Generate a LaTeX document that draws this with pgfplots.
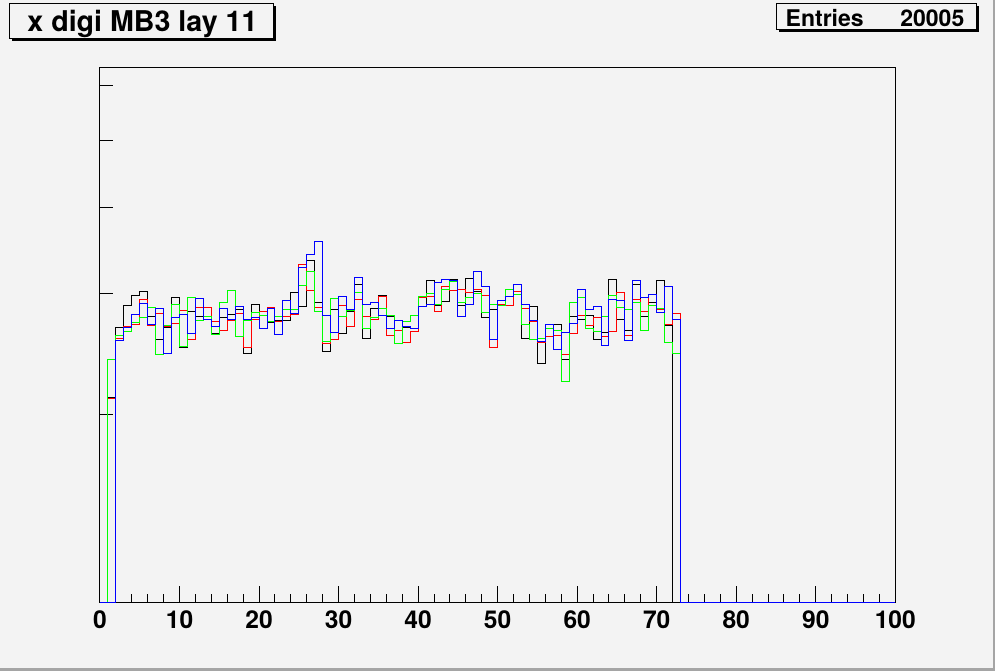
\documentclass[border=0pt]{standalone}
\usepackage{fontspec}
\setmainfont{TeX Gyre Heros}
\usepackage{pgfplots}
\usepackage{pgfplotstable}
\pgfplotsset{compat=1.18}
\definecolor{bg}{RGB}{243,243,243}
\definecolor{brd}{RGB}{165,165,165}
\newcommand{\PX}[2]{({(#1)*0.5pt},{(671-(#2))*0.5pt})}
\pgfplotstableread{
x k r g b
0 106.7 106.7 106.7 106.7
1 211.8 211.1 240.5 106.7
2 267.7 258.0 260.7 256.3
3 288.2 268.3 264.2 267.4
4 298.0 270.4 272.2 279.6
5 302.0 294.0 276.8 290.1
6 277.8 269.5 286.2 270.4
7 257.2 280.5 244.6 285.3
8 267.7 268.6 269.5 245.4
9 296.0 271.3 289.1 276.8
10 250.4 283.4 251.2 279.6
11 282.4 257.2 296.0 262.4
12 277.8 286.2 274.1 295.0
13 275.0 286.2 277.8 275.0
14 262.4 273.1 261.5 268.6
15 276.8 265.0 291.1 285.3
16 279.6 274.1 303.0 275.0
17 284.3 280.5 259.8 287.2
18 245.4 250.4 274.1 275.0
19 289.1 275.0 281.5 276.8
20 282.4 282.4 278.7 266.8
21 272.2 286.2 273.1 285.3
22 274.1 273.1 277.8 261.5
23 274.1 277.8 284.3 293.0
24 301.0 279.6 284.3 280.5
25 287.2 330.5 308.1 327.2
26 335.0 303.0 322.9 341.8
27 291.1 286.2 282.4 356.9
28 247.1 253.8 255.5 278.7
29 284.3 257.2 295.0 263.3
30 262.4 288.2 277.8 297.0
31 282.4 268.6 283.4 284.3
32 309.1 294.0 301.0 316.4
33 258.0 277.8 266.8 289.1
34 285.3 275.0 276.8 291.1
35 298.0 297.0 285.3 278.7
36 277.8 260.7 278.7 266.8
37 265.0 265.0 253.8 274.1
38 267.7 254.6 273.1 268.6
39 266.8 264.2 278.7 266.8
40 287.2 296.0 297.0 287.2
41 313.3 297.0 300.0 289.1
42 288.2 282.4 289.1 311.2
43 292.0 307.1 304.0 314.3
44 314.3 303.0 312.2 313.3
45 288.2 304.0 291.1 277.8
46 315.4 301.0 296.0 289.1
47 302.0 304.0 300.0 322.9
48 276.8 298.0 281.5 307.1
49 284.3 250.4 289.1 257.2
50 289.1 289.1 288.2 293.0
51 297.0 288.2 304.0 297.0
52 302.0 302.0 299.0 309.1
53 258.0 285.3 270.4 289.1
54 287.2 273.1 257.2 274.1
55 237.4 254.6 258.0 255.5
56 270.4 259.8 266.8 270.4
57 270.4 260.7 265.0 248.7
58 240.5 244.6 223.5 263.3
59 277.8 262.4 291.1 271.3
60 275.0 278.7 296.0 304.0
61 278.7 269.5 266.8 284.3
62 257.2 276.8 264.2 287.2
63 263.3 259.8 277.8 252.1
64 314.3 264.2 298.0 294.0
65 275.0 301.0 286.2 293.0
66 265.0 260.7 284.3 256.3
67 309.1 294.0 291.1 313.3
68 277.8 282.4 265.0 296.0
69 291.1 299.0 288.2 299.0
70 313.3 284.3 285.3 281.5
71 269.5 270.4 254.6 307.1
72 106.7 280.5 245.4 275.0
73 106.7 106.7 106.7 106.7
100 106.7 106.7 106.7 106.7
}\hist
\begin{document}
\begin{tikzpicture}
\useasboundingbox \PX{0}{0} rectangle \PX{995}{671};
\fill[bg] \PX{0}{0} rectangle \PX{995}{671};
\fill[brd] \PX{992.7}{0} rectangle \PX{995}{671};
\fill[brd] \PX{0}{667.7} rectangle \PX{995}{671};
% title box
\fill[black] \PX{11.5}{5.8} rectangle \PX{275.8}{40.8};
\filldraw[fill=bg, draw=black, line width=0.5pt] \PX{9}{3.3} rectangle \PX{273.3}{38.3};
\node[anchor=base, inner sep=0pt, font=\fontsize{14.3}{14.3}\selectfont\bfseries] at \PX{142.5}{31.7} {x digi MB3 lay 11};
% stats box
\fill[black] \PX{778.5}{5.8} rectangle \PX{978.5}{31.8};
\filldraw[fill=bg, draw=black, line width=0.5pt] \PX{776}{3.3} rectangle \PX{976}{29.3};
\node[anchor=base west, inner sep=0pt, font=\fontsize{11.5}{11.5}\selectfont\bfseries] at \PX{785.3}{26.7} {Entries};
\node[anchor=base east, inner sep=0pt, font=\fontsize{11.5}{11.5}\selectfont\bfseries] at \PX{964.7}{26.7} {20005};
\begin{axis}[
  at={(50pt,34.25pt)}, anchor=south west,
  scale only axis, width=397.65pt, height=267.5pt,
  xmin=0, xmax=100, ymin=106.7, ymax=638, ymode=log,
  axis line style={line width=0.5pt, black},
  tick pos=left, tick align=inside,
  xtick={0,10,...,100},
  xticklabels={0,10,20,30,40,50,60,70,80,90,100},
  minor x tick num=4,
  ytick={200,300,400,500,600}, yticklabels={},
  yminorticks=false,
  major tick length=8pt, minor tick length=4pt,
  x tick style={line width=0.5pt, black},
  y tick style={line width=0.5pt, black, /pgfplots/major tick length=6.5pt},
  xticklabel style={anchor=base, inner sep=0pt, yshift=-12.9pt, font=\fontsize{12.3}{12.3}\selectfont\bfseries},
  no marks,
]
\addplot[const plot, black, line width=0.5pt] table[x=x, y=k] {\hist};
\addplot[const plot, red, line width=0.5pt] table[x=x, y=r] {\hist};
\addplot[const plot, green, line width=0.5pt] table[x=x, y=g] {\hist};
\addplot[const plot, blue, line width=0.5pt] table[x=x, y=b] {\hist};
\end{axis}
\end{tikzpicture}
\end{document}
